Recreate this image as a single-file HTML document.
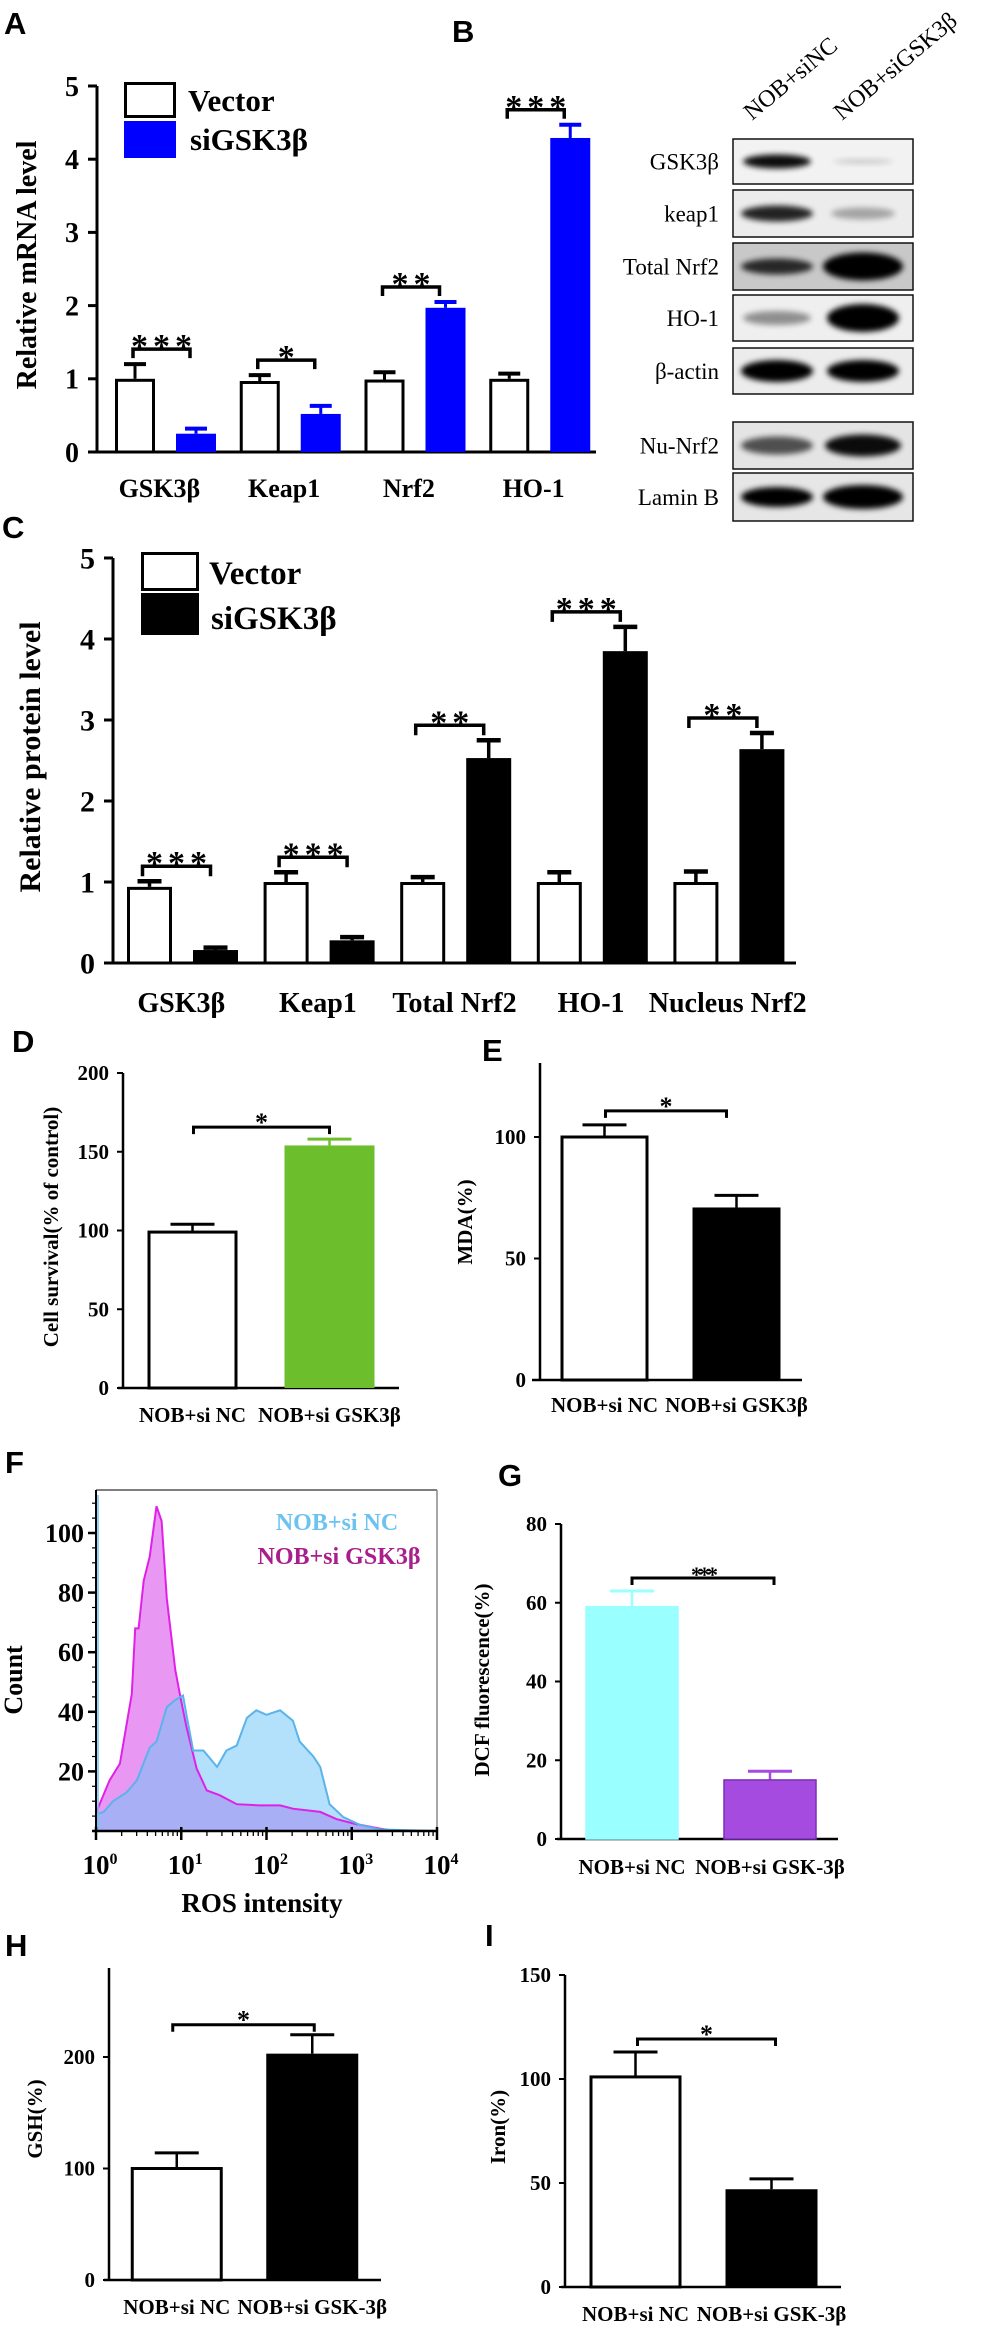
<!DOCTYPE html>
<html><head><meta charset="utf-8"><style>
html,body{margin:0;padding:0;background:#fff;}
svg{display:block;}
</style></head><body>
<svg id="fig" width="984" height="2327" viewBox="0 0 984 2327" xmlns="http://www.w3.org/2000/svg">
<defs>
<filter id="blur3" x="-30%" y="-100%" width="160%" height="300%"><feGaussianBlur stdDeviation="3"/></filter>
<filter id="blur2" x="-30%" y="-100%" width="160%" height="300%"><feGaussianBlur stdDeviation="2"/></filter>
</defs>
</svg>
<script>
// ---------- DATA ----------
const aCats = ['GSK3β','Keap1','Nrf2','HO-1'];
const aVector = [1.0, 0.97, 0.99, 1.0];
const aVectorErr = [0.2, 0.08, 0.1, 0.07];
const aSi = [0.25, 0.52, 1.97, 4.29];
const aSiErr = [0.07, 0.11, 0.08, 0.18];
const aSig = ['***','*','**','***'];
const aTicks = [0,1,2,3,4,5];

const cCats = ['GSK3β','Keap1','Total Nrf2','HO-1','Nucleus Nrf2'];
const cVector = [0.94, 1.0, 1.0, 1.0, 1.0];
const cVectorErr = [0.07, 0.12, 0.06, 0.12, 0.13];
const cSi = [0.16, 0.28, 2.53, 3.85, 2.64];
const cSiErr = [0.03, 0.04, 0.22, 0.3, 0.2];
const cSig = ['***','***','**','***','**'];
const cTicks = [0,1,2,3,4,5];

const twoCats = ['NOB+si NC','NOB+si GSK3β'];
const twoCatsDash = ['NOB+si NC','NOB+si GSK-3β'];
const dValues = [99, 154];
const dErr = [5, 4];
const dTicks = [0,50,100,150,200];
const eValues = [100, 71];
const eErr = [5, 5];
const eTicks = [0,50,100];
const gValues = [59, 15];
const gErr = [4, 2.2];
const gTicks = [0,20,40,60,80];
const hValues = [100, 203];
const hErr = [14, 17];
const hTicks = [0,100,200];
const iValues = [101, 47];
const iErr = [12, 5];
const iTicks = [0,50,100,150];

const fLogMag = [0,0.02,0.16,0.28,0.42,0.46,0.5,0.56,0.63,0.71,0.77,0.83,0.93,0.99,1.06,1.18,1.3,1.45,1.65,1.92,2.16,2.31,2.63,2.82,3.02,3.33,3.47];
const fCntMag = [6,7.5,17,22.6,46,68,68,84,92,109,104,78,54,45,35,21,13.6,12,9,8.6,8.6,7.5,6.4,4,2.5,0.8,0.2];
const fLogBlue = [0,0.03,0.09,0.2,0.36,0.48,0.63,0.71,0.83,0.93,1.02,1.08,1.14,1.26,1.42,1.53,1.65,1.77,1.88,2.0,2.16,2.31,2.39,2.55,2.63,2.74,2.9,3.1,3.33,4.0];
const fCntBlue = [5,5.8,6.4,10,13,17,28,30,41.6,44,45.5,36,27,27,21.5,27,28.7,38,40.5,39,40.5,37,30,25,21.5,9,4.7,2,0.5,0];
const fYTicks = [20,40,60,80,100];
const fXTicks = [0,1,2,3,4];

// ---------- HELPERS ----------
const NS = 'http://www.w3.org/2000/svg';
const svg = document.getElementById('fig');
function mk(tag, attrs, parent){
  const e = document.createElementNS(NS, tag);
  for (const k in attrs) e.setAttribute(k, attrs[k]);
  (parent || svg).appendChild(e);
  return e;
}
function T(x, y, s, size, o){
  o = o || {};
  const e = mk('text', {
    transform: 'translate(' + x + ',' + y + ')' + (o.rot ? ' rotate(' + o.rot + ')' : ''),
    'font-family': o.ff || '"Liberation Serif", serif',
    'font-size': size,
    'font-weight': o.w || 'bold',
    'text-anchor': o.a || 'middle',
    fill: o.fill || '#000',
    'letter-spacing': o.ls || 0
  });
  e.textContent = s;
  return e;
}
function panelLabel(x, y, s){
  const e = T(x, y, s, 31, {ff:'"Liberation Sans", sans-serif', a:'start'});
  
  
}

function barChart(id, cfg, cats, series, errs, ticks, sig){
  const g = mk('g', {});
  
  
  const ppu = (cfg.y0 - cfg.top) / cfg.topVal;
  const Y = v => cfg.y0 - v * ppu;
  const nG = cats.length;
  const ya = mk('line', {x1:cfg.ax, y1:cfg.top, x2:cfg.ax, y2:cfg.y0, stroke:'#000','stroke-width':cfg.axW}, g);
  
  
  const xa = mk('line', {x1:cfg.xStart, y1:cfg.y0, x2:cfg.xEnd, y2:cfg.y0, stroke:'#000','stroke-width':cfg.axW}, g);
  
  
  ticks.forEach(t => {
    const tm = mk('line', {x1:cfg.ax - cfg.tickLen, y1:Y(t), x2:cfg.ax, y2:Y(t), stroke:'#000','stroke-width':cfg.axW}, g);
    
    
    const tl = T(cfg.ax - cfg.tickGap, Y(t) + cfg.tickFont * 0.35, String(t), cfg.tickFont, {a:'end'});
    g.appendChild(tl);
    
    
  });
  const centers = [];
  for (let i = 0; i < nG; i++){
    const cs = [];
    series.forEach((vals, s) => {
      const x = cfg.start + i * cfg.band + cfg.offs[s];
      const v = vals[i];
      const er = errs[s][i];
      const cx = x + cfg.w / 2;
      cs.push({cx: cx, top: v + er});
      const el = mk('line', {x1:cx, y1:Y(v), x2:cx, y2:Y(v + er), stroke:cfg.stroke[s], 'stroke-width':cfg.errW}, g);
      
      
      const cap = mk('line', {x1:cx - cfg.capW/2, y1:Y(v + er), x2:cx + cfg.capW/2, y2:Y(v + er), stroke:cfg.stroke[s], 'stroke-width':cfg.errW + 1}, g);
      
      
      const sw = cfg.fill[s] === '#fff' ? cfg.barSW : 0;
      const r = mk('rect', {x:x + sw/2, y:Y(v) + sw/2, width:cfg.w - sw, height:Math.max(0, cfg.y0 - Y(v) - sw/2), fill:cfg.fill[s], stroke:sw ? cfg.stroke[s] : 'none', 'stroke-width':sw}, g);
      
      
    });
    const lx = cfg.start + (i + 0.5) * cfg.band;
    const lt = T(lx, cfg.labelY, cats[i], cfg.labelFont);
    g.appendChild(lt);
    
    
    centers.push(cs);
  }
  sig.forEach((s, i) => {
    const a = centers[i][0], b = centers[i][1];
    const yb = Y(Math.max(a.top, b.top)) - cfg.brGap;
    const x1 = a.cx - cfg.brPadL, x2 = b.cx - cfg.brPadR;
    const p = mk('path', {d:'M' + x1 + ',' + (yb + cfg.leg) + 'V' + yb + 'H' + x2 + 'V' + (yb + cfg.leg), fill:'none', stroke:'#000', 'stroke-width':cfg.brW}, g);
    
    
    const st = T((x1 + x2) / 2 + cfg.starLs / 2, yb + cfg.starDy, s, cfg.starFont, {ls:cfg.starLs});
    g.appendChild(st);
    
    
  });
  const yt = T(cfg.ytX, cfg.ytY, cfg.ytText, cfg.ytFont, {rot:-90});
  g.appendChild(yt);
  
  
  return g;
}
function twoBar(id, cfg, cats, vals, errs, ticks, sig, fills){
  const g = mk('g', {});
  
  
  const ppu = (cfg.y0 - cfg.top) / cfg.topVal;
  const Y = v => cfg.y0 - v * ppu;
  const ya = mk('line', {x1:cfg.ax, y1:cfg.axisTop, x2:cfg.ax, y2:cfg.y0, stroke:'#000','stroke-width':2.5}, g);
  
  
  const xa = mk('line', {x1:cfg.xStart, y1:cfg.y0, x2:cfg.xEnd, y2:cfg.y0, stroke:'#000','stroke-width':2.5}, g);
  
  
  ticks.forEach(t => {
    const tm = mk('line', {x1:cfg.ax - 6, y1:Y(t), x2:cfg.ax, y2:Y(t), stroke:'#000','stroke-width':2}, g);
    
    
    const tl = T(cfg.ax - 14, Y(t) + 7, String(t), 21, {a:'end'});
    g.appendChild(tl);
    
    
  });
  const cxs = [];
  vals.forEach((v, i) => {
    const cx = cfg.start + (i + 0.5) * cfg.band;
    cxs.push(cx);
    const x = cx - cfg.w / 2;
    const col = fills[i] === '#fff' ? '#000' : fills[i];
    const el = mk('line', {x1:cx, y1:Y(v), x2:cx, y2:Y(v + errs[i]), stroke:col, 'stroke-width':2.5}, g);
    
    
    const cap = mk('line', {x1:cx - 22, y1:Y(v + errs[i]), x2:cx + 22, y2:Y(v + errs[i]), stroke:col, 'stroke-width':3}, g);
    
    
    const sw = fills[i] === '#fff' ? 3 : 0;
    const r = mk('rect', {x:x + sw/2, y:Y(v), width:cfg.w - sw, height:cfg.y0 - Y(v), fill:fills[i], stroke:sw ? '#000' : (cfg.edge ? cfg.edge[i] : 'none'), 'stroke-width':sw || (cfg.edge ? 1.5 : 0)}, g);
    
    
    const lt = T(cx, cfg.labelY, cats[i], 21);
    g.appendChild(lt);
    
    
  });
  const yb = Y(Math.max(vals[0] + errs[0], vals[1] + errs[1])) - cfg.brGap;
  const x1 = cxs[0] - cfg.brL, x2 = cxs[1] + cfg.brR;
  const p = mk('path', {d:'M' + x1 + ',' + (yb + 7) + 'V' + yb + 'H' + x2 + 'V' + (yb + 7), fill:'none', stroke:'#000', 'stroke-width':3}, g);
  
  
  const st = T((x1 + x2) / 2, yb + 4, sig, sig.length > 1 ? 22 : 26, {ls: sig.length > 1 ? -3 : 0});
  g.appendChild(st);
  
  
  const yt = T(cfg.ytX, cfg.ytY, cfg.ytText, 21, {rot:-90});
  g.appendChild(yt);
  
  
}

// ---------- PANEL LABELS ----------
panelLabel(4, 34, 'A');
panelLabel(452, 42, 'B');
panelLabel(2, 538, 'C');
panelLabel(12, 1052, 'D');
panelLabel(482, 1061, 'E');
panelLabel(5, 1473, 'F');
panelLabel(498, 1486, 'G');
panelLabel(5, 1956, 'H');
panelLabel(485, 1946, 'I');

// ---------- PANEL A ----------
barChart('mrna', {ax:97, y0:452, top:86, topVal:5, xStart:95, xEnd:596, axW:3, tickLen:9, tickGap:18, tickFont:28,
  start:97, band:124.75, offs:[18,79], w:40, fill:['#fff','#0000ff'], stroke:['#000','#0000ff'], barSW:3, errW:3, capW:22,
  labelY:497, labelFont:26, brGap:15, leg:9, brPadL:2, brPadR:6, brW:3.5, starDy:8, starFont:34, starLs:5,
  ytX:36, ytY:265, ytText:'Relative mRNA level', ytFont:28}, aCats, [aVector, aSi], [aVectorErr, aSiErr], aTicks, aSig);
(function(){
  const r1 = mk('rect', {x:125.5, y:83.5, width:49, height:33, fill:'#fff', stroke:'#000', 'stroke-width':3});
  
  
  const r2 = mk('rect', {x:124, y:121, width:52, height:37, fill:'#0000ff'});
  
  
  const t1 = T(188, 111, 'Vector', 31, {a:'start'});
  
  
  const t2 = T(190, 150, 'siGSK3β', 31, {a:'start'});
  
  
})();

// ---------- PANEL B (western blots) ----------
const blotRows = [
  {label:'GSK3β', y:139, h:45, bg:'#f2f2f2', b:[[0.95,7,34],[0.2,2,30]]},
  {label:'keap1', y:190, h:47, bg:'#ececec', b:[[0.85,8,36],[0.3,6,32]]},
  {label:'Total Nrf2', y:243, h:47, bg:'#c8c8c8', b:[[0.8,8,36],[1,14,40]]},
  {label:'HO-1', y:295, h:46, bg:'#efefef', b:[[0.4,7,34],[1,14,36]]},
  {label:'β-actin', y:348, h:46, bg:'#ececec', b:[[1,11,36],[1,11,36]]},
  {label:'Nu-Nrf2', y:422, h:47, bg:'#e4e4e4', b:[[0.65,9,36],[0.95,11,38]]},
  {label:'Lamin B', y:473, h:48, bg:'#e6e6e6', b:[[1,10,36],[1,12,40]]}
];
(function(){
  const g = mk('g', {});
  
  
  const h1 = T(752, 121, 'NOB+siNC', 24, {rot:-40, a:'start', w:'normal'});
  g.appendChild(h1);
  
  
  const h2 = T(842, 121, 'NOB+siGSK3β', 24, {rot:-40, a:'start', w:'normal'});
  g.appendChild(h2);
  
  
  blotRows.forEach(r => {
    const bx = mk('rect', {x:733, y:r.y, width:180, height:r.h, fill:r.bg, stroke:'#111', 'stroke-width':1.5}, g);
    
    
    [777, 863].forEach((cx, k) => {
      const [op, ry, rx] = r.b[k];
      const el = mk('ellipse', {cx:cx, cy:r.y + r.h/2, rx:rx, ry:ry, fill:'#000', opacity:op, filter:'url(#blur3)'}, g);
      
      
    });
    const lt = T(719, r.y + r.h/2 + 8, r.label, 23, {a:'end', w:'normal'});
    g.appendChild(lt);
    
    
  });
})();

// ---------- PANEL C ----------
barChart('protein', {ax:113, y0:963, top:558, topVal:5, xStart:111, xEnd:796, axW:3, tickLen:9, tickGap:18, tickFont:30,
  start:113, band:136.6, offs:[14,80], w:45, fill:['#fff','#000'], stroke:['#000','#000'], barSW:3, errW:3.5, capW:24,
  labelY:1012, labelFont:28, brGap:15, leg:10, brPadL:7, brPadR:5, brW:3.5, starDy:8, starFont:34, starLs:5,
  ytX:40, ytY:757, ytText:'Relative protein level', ytFont:30}, cCats, [cVector, cSi], [cVectorErr, cSiErr], cTicks, cSig);
(function(){
  const r1 = mk('rect', {x:142.5, y:553.5, width:55, height:36, fill:'#fff', stroke:'#000', 'stroke-width':3});
  
  
  const r2 = mk('rect', {x:141, y:593, width:58, height:42, fill:'#000'});
  
  
  const t1 = T(209, 584, 'Vector', 33, {a:'start'});
  
  
  const t2 = T(211, 629, 'siGSK3β', 33, {a:'start'});
  
  
})();

// ---------- PANEL D ----------
twoBar('cell-survival', {ax:123, axisTop:1073, y0:1388, top:1073, topVal:200, xStart:118, xEnd:399, start:124, band:137, w:90,
  labelY:1422, brGap:12, brL:-1, brR:0, ytX:58, ytY:1227, ytText:'Cell survival(% of control)'},
  twoCats, dValues, dErr, dTicks, '*', ['#fff','#6dbe2d']);
// ---------- PANEL E ----------
twoBar('mda', {ax:540, axisTop:1063, y0:1380, top:1137, topVal:100, xStart:532, xEnd:802, start:538.5, band:132, w:88,
  labelY:1412, brGap:14, brL:-1, brR:-10, ytX:472, ytY:1222, ytText:'MDA(%)'},
  twoCats, eValues, eErr, eTicks, '*', ['#fff','#000']);
// ---------- PANEL G ----------
twoBar('dcf', {ax:561, axisTop:1524, y0:1839, top:1524, topVal:80, xStart:557, xEnd:838, start:563, band:138, w:92,
  labelY:1874, brGap:13, brL:0, brR:4, ytX:489, ytY:1680, ytText:'DCF  fluorescence(%)', edge:['#99ffff','#7a2fb8']},
  twoCatsDash, gValues, gErr, gTicks, '***', ['#99ffff','#a64be0']);
// ---------- PANEL H ----------
twoBar('gsh', {ax:109, axisTop:1968, y0:2280, top:2057, topVal:200, xStart:104, xEnd:381, start:109, band:135.5, w:92,
  labelY:2314, brGap:10, brL:4, brR:2, ytX:42, ytY:2119, ytText:'GSH(%)'},
  twoCatsDash, hValues, hErr, hTicks, '*', ['#fff','#000']);
// ---------- PANEL I ----------
twoBar('iron', {ax:565, axisTop:1975, y0:2287, top:1975, topVal:150, xStart:561, xEnd:841, start:567.5, band:136, w:92,
  labelY:2321, brGap:13, brL:-2, brR:4, ytX:505, ytY:2127, ytText:'Iron(%)'},
  twoCatsDash, iValues, iErr, iTicks, '*', ['#fff','#000']);

// ---------- PANEL F (flow histogram) ----------
(function(){
  const X0 = 96, DEC = 85.25, Y0 = 1831, PPC = 2.98;
  const X = l => X0 + l * DEC;
  const Y = c => Y0 - c * PPC;
  const g = mk('g', {});
  
  
  function area(logs, cnts){
    let d = 'M' + X(logs[0]) + ',' + Y0;
    logs.forEach((l, i) => { d += 'L' + X(l).toFixed(1) + ',' + Y(cnts[i]).toFixed(1); });
    d += 'L' + X(logs[logs.length - 1]) + ',' + Y0 + 'Z';
    return d;
  }
  function line(logs, cnts){
    let d = '';
    logs.forEach((l, i) => { d += (i ? 'L' : 'M') + X(l).toFixed(1) + ',' + Y(cnts[i]).toFixed(1); });
    return d;
  }
  const ma = mk('path', {d:area(fLogMag, fCntMag), fill:'#e898f2'}, g);
  
  
  const ba = mk('path', {d:area(fLogBlue, fCntBlue), fill:'rgba(110,195,245,0.52)'}, g);
  
  
  const ml = mk('path', {d:line(fLogMag, fCntMag), fill:'none', stroke:'#e020e8', 'stroke-width':2}, g);
  
  
  const bl = mk('path', {d:line(fLogBlue, fCntBlue), fill:'none', stroke:'#5ab4ea', 'stroke-width':2}, g);
  
  
  const top = mk('line', {x1:X0, y1:1490, x2:437, y2:1490, stroke:'#555', 'stroke-width':1.5}, g);
  
  
  const rt = mk('line', {x1:437, y1:1490, x2:437, y2:Y0, stroke:'#888', 'stroke-width':1.5}, g);
  
  
  const ya = mk('line', {x1:X0, y1:1490, x2:X0, y2:Y0, stroke:'#000', 'stroke-width':2}, g);
  
  
  const yb = mk('line', {x1:X0 + 2, y1:1495, x2:X0 + 2, y2:Y0, stroke:'#6fc3f0', 'stroke-width':1.5}, g);
  
  
  const xa = mk('line', {x1:X0 - 4, y1:Y0, x2:438, y2:Y0, stroke:'#000', 'stroke-width':2.5}, g);
  
  
  for (let c = 5; c <= 110; c += 5){
    const major = c % 20 === 0;
    const tm = mk('line', {x1:X0 - (major ? 8 : 4), y1:Y(c), x2:X0, y2:Y(c), stroke:'#000', 'stroke-width':major ? 2.5 : 1.2}, g);
    
    
  }
  fYTicks.forEach(c => {
    const tl = T(X0 - 12, Y(c) + 9, String(c), 26, {a:'end'});
    g.appendChild(tl);
    
    
  });
  for (let d = 0; d < 4; d++){
    for (let m = 2; m <= 9; m++){
      const x = X(d + Math.log10(m));
      const tm = mk('line', {x1:x, y1:Y0, x2:x, y2:Y0 + 5, stroke:'#000', 'stroke-width':1.3}, g);
      
      
    }
  }
  fXTicks.forEach(d => {
    const tm = mk('line', {x1:X(d), y1:Y0 - 4, x2:X(d), y2:Y0 + 9, stroke:'#000', 'stroke-width':2.5}, g);
    
    
    const tl = mk('text', {x:X(d) + 4, y:1874, 'font-family':'"Liberation Serif", serif', 'font-size':27, 'font-weight':'bold', 'text-anchor':'middle'}, g);
    
    
    tl.textContent = '10';
    const sup = mk('tspan', {dy:-10, 'font-size':16}, tl);
    sup.textContent = String(d);
  });
  const xt = T(262, 1912, 'ROS intensity', 27);
  g.appendChild(xt);
  
  
  const yt = T(22, 1680, 'Count', 26, {rot:-90});
  g.appendChild(yt);
  
  
  const l1 = T(337, 1530, 'NOB+si NC', 24, {fill:'#6cc3f0'});
  g.appendChild(l1);
  
  
  const l2 = T(339, 1564, 'NOB+si GSK3β', 24, {fill:'#a81e8c'});
  g.appendChild(l2);
  
  
})();
</script>
</body></html>
